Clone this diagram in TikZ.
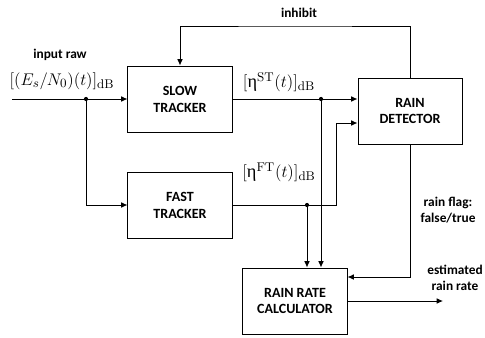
\documentclass[tikz,border=0pt]{standalone}
\usepackage[no-math]{fontspec}
\setmainfont{Carlito}
\newfontfamily\timesfont{Liberation Serif}
\usetikzlibrary{arrows.meta}

\tikzset{
  block/.style={draw, line width=0.7pt, minimum width=2.6cm, minimum height=1.65cm,
    align=center, font=\bfseries\fontsize{10}{12}\selectfont},
  lbl/.style={align=center, font=\bfseries\fontsize{9.5}{11.5}\selectfont},
  sig/.style={font=\fontsize{13}{15}\selectfont},
  wire/.style={line width=0.6pt, -{Latex[length=4.5pt,width=4pt]}},
  dot/.style={circle, fill, inner sep=0pt, minimum size=3pt}
}

\begin{document}
\begin{tikzpicture}[x=0.025cm, y=-0.025cm]
    \useasboundingbox (0,0) rectangle (485,337);

    % blocks
    \node[block] (slow) at (180,99) {SLOW\\TRACKER};
    \node[block] (fast) at (180,205) {FAST\\TRACKER};
    \node[block] (detector) at (410,111) {RAIN\\DETECTOR};
    \node[block] (calc) at (295,301) {RAIN RATE\\CALCULATOR};

    % input and split to both trackers
    \coordinate (in) at (12,99);
    \node[dot] (split) at (86,99) {};
    \node[lbl] (inraw) at (60,55) {input raw};
    \node[sig] (insig) at (62,81) {$[(E_s/N_0)(t)]_{\mathrm{dB}}$};
    \draw[wire] (in) -- (slow.west);
    \draw[wire] (split) |- (fast.west);

    % inhibit loop from detector back to slow tracker
    \coordinate (inhtop) at (295,26);
    \node[lbl] (inhibit) at (299,13) {inhibit};
    \draw[wire] (detector.north) |- (inhtop) -| (slow.north);

    % slow tracker output
    \node[sig] (stsig) at (279,82) {$[\mbox{\timesfont η}^{\mathrm{ST}}(t)]_{\mathrm{dB}}$};
    \node[dot] (stdot) at (321,99) {};
    \draw[wire] (slow.east) -- (slow.east -| detector.west);
    \draw[wire] (stdot) -- (stdot |- calc.north);

    % fast tracker output
    \node[sig] (ftsig) at (279,172) {$[\mbox{\timesfont η}^{\mathrm{FT}}(t)]_{\mathrm{dB}}$};
    \node[dot] (ftdot) at (307,205) {};
    \coordinate (ftbend) at (336,205);
    \path (detector.west) ++(0,12) coordinate (ftin);
    \draw[wire] (fast.east) -- (ftbend) |- (ftin);
    \draw[wire] (ftdot) -- (ftdot |- calc.north);

    % rain flag into the calculator
    \node[lbl] (flag) at (448,210) {rain flag:\\false/true};
    \path (calc.east) ++(0,-24) coordinate (flagin);
    \draw[wire] (detector.south) |- (flagin);

    % estimated output
    \coordinate (out) at (443,301);
    \node[lbl] (est) at (455,278) {estimated\\rain rate};
    \draw[wire] (calc.east) -- (out);

\end{tikzpicture}
\end{document}
